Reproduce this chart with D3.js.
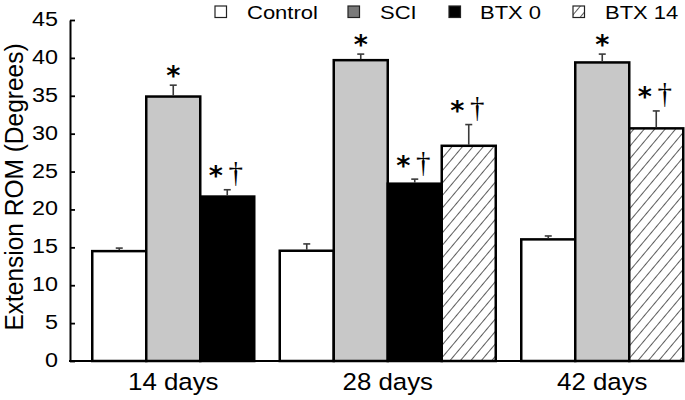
<!DOCTYPE html>
<html>
<head>
<meta charset="utf-8">
<script src="https://cdn.jsdelivr.net/npm/d3@7"></script>
<style>
  html, body { margin: 0; padding: 0; background: #fff; }
  svg { display: block; font-family: "Liberation Sans", Arial, sans-serif; }
</style>
</head>
<body>
<svg id="chart" width="685" height="400"></svg>
<script>
// ---- data ----
const categories = ["14 days", "28 days", "42 days"];
const seriesNames = ["Control", "SCI", "BTX 0", "BTX 14"];
const controlValues = [14.5, 14.55, 16.05];
const controlErrors = [0.4, 0.9, 0.45];
const sciValues = [34.9, 39.7, 39.4];
const sciErrors = [1.5, 0.8, 1.1];
const btx0Values = [21.7, 23.4, null];
const btx0Errors = [0.9, 0.6, null];
const btx14Values = [null, 28.4, 30.7];
const btx14Errors = [null, 2.8, 2.3];
const sciMarks = ["*", "*", "*"];
const btx0Marks = ["*\u2020", "*\u2020", null];
const btx14Marks = [null, "*\u2020", "*\u2020"];
const yTicks = [0, 5, 10, 15, 20, 25, 30, 35, 40, 45];
const yTitle = "Extension ROM (Degrees)";

// ---- layout / style ----
const svg = d3.select("#chart");
const axisX = 70, y0 = 361, yTop = 20;
const barW = 54;
const stretch = 1.14;
const fills = { "Control": "#ffffff", "SCI": "#c8c8c8", "BTX 0": "#000000", "BTX 14": "url(#hatch)" };
const legendFills = { "Control": "#ffffff", "SCI": "#7a7a7a", "BTX 0": "#000000", "BTX 14": "url(#hatchLegend)" };

const defs = svg.append("defs");
function hatch(id, size) {
  const p = defs.append("pattern").attr("id", id).attr("patternUnits", "userSpaceOnUse")
    .attr("width", size).attr("height", size).attr("patternTransform", "rotate(40)");
  p.append("rect").attr("width", size).attr("height", size).attr("fill", "#fff");
  p.append("line").attr("x1", 0).attr("y1", 0).attr("x2", 0).attr("y2", size)
    .attr("stroke", "#333").attr("stroke-width", 1.6);
}
hatch("hatch", 8);
hatch("hatchLegend", 7);

const y = d3.scaleLinear().domain([0, 45]).range([y0, yTop]);
const x = d3.scaleBand().domain(categories).range([66, 709.5]).padding(0);

const seriesData = [
  { name: "Control", values: controlValues, errors: controlErrors, marks: [null, null, null] },
  { name: "SCI", values: sciValues, errors: sciErrors, marks: sciMarks },
  { name: "BTX 0", values: btx0Values, errors: btx0Errors, marks: btx0Marks },
  { name: "BTX 14", values: btx14Values, errors: btx14Errors, marks: btx14Marks }
];

const bars = [];
categories.forEach((c, i) => {
  const present = seriesData.filter(s => s.values[i] != null);
  const center = x(c) + x.bandwidth() / 2;
  const inner = d3.scaleBand().domain(present.map(s => s.name))
    .range([center - present.length * barW / 2, center + present.length * barW / 2]);
  present.forEach(s => {
    bars.push({ cat: c, name: s.name, value: s.values[i], err: s.errors[i], mark: s.marks[i],
      x0: inner(s.name), w: inner.bandwidth() });
  });
});
const lastRight = d3.max(bars, d => d.x0 + d.w);

// bars
svg.append("g").selectAll("rect").data(bars).join("rect")
  .attr("x", d => d.x0).attr("y", d => y(d.value))
  .attr("width", d => d.w).attr("height", d => y(0) - y(d.value))
  .attr("fill", d => fills[d.name]).attr("stroke", "#000").attr("stroke-width", 2.5);

// error bars
const eg = svg.append("g").attr("stroke", "#3a3a3a").attr("stroke-width", 1.6);
bars.forEach(d => {
  const cx = d.x0 + d.w / 2;
  eg.append("line").attr("x1", cx).attr("x2", cx).attr("y1", y(d.value) - 1).attr("y2", y(d.value + d.err));
  eg.append("line").attr("x1", cx - 3.5).attr("x2", cx + 3.5).attr("y1", y(d.value + d.err)).attr("y2", y(d.value + d.err));
});

// significance marks
const mg = svg.append("g").attr("fill", "#000");
bars.filter(d => d.mark).forEach(d => {
  const cx = d.x0 + d.w / 2;
  const top = y(d.value + d.err);
  const hasDagger = d.mark.includes("\u2020");
  const starCenterY = top - (hasDagger ? 19.5 : 15.5);
  mg.append("text").attr("x", cx + (hasDagger ? -11.5 : 0)).attr("y", starCenterY + 15)
    .attr("text-anchor", "middle").attr("font-family", "'DejaVu Sans', sans-serif")
    .attr("font-weight", "bold").attr("font-size", 27).text("*");
  if (hasDagger) {
    mg.append("text").attr("x", cx + 8.5).attr("y", top - 7.5)
      .attr("text-anchor", "middle").attr("font-family", "'Liberation Serif', serif")
      .attr("font-size", 29).text("\u2020");
  }
});

// y axis
const yAxis = svg.append("g").attr("transform", `translate(${axisX},0)`)
  .call(d3.axisLeft(y).tickValues(yTicks).tickSizeInner(-5).tickSizeOuter(0).tickPadding(0));
yAxis.select(".domain").attr("stroke", "#000").attr("stroke-width", 2);
yAxis.selectAll(".tick line").attr("stroke", "#000").attr("stroke-width", 1.8);
yAxis.selectAll(".tick text")
  .attr("x", null).attr("dy", null).attr("y", null)
  .attr("transform", `translate(-12,5.5) scale(${stretch},1)`)
  .attr("font-size", 20.5).attr("fill", "#000")
  .attr("font-family", "'Liberation Sans', Arial, sans-serif");

// x axis
const xAxis = svg.append("g").attr("transform", `translate(0,${y0})`)
  .call(d3.axisBottom(x).tickSize(0).tickPadding(0));
xAxis.select(".domain").remove();
xAxis.selectAll(".tick text")
  .attr("y", null).attr("dy", null)
  .attr("transform", `translate(0,29) scale(1.1,1)`)
  .attr("font-size", 23.5).attr("fill", "#000")
  .attr("font-family", "'Liberation Sans', Arial, sans-serif");
svg.append("line").attr("x1", axisX - 1).attr("x2", lastRight).attr("y1", y0).attr("y2", y0)
  .attr("stroke", "#000").attr("stroke-width", 2);

// y title
svg.append("text").attr("transform", `translate(22.5,187) scale(1.08,1) rotate(-90)`)
  .attr("text-anchor", "middle").attr("font-size", 24.5).attr("fill", "#000").text(yTitle);

// legend
const legendX = [215, 348, 449, 573];
const legendTextX = [247, 380, 480, 605];
const legend = svg.append("g");
seriesNames.forEach((n, i) => {
  legend.append("rect").attr("x", legendX[i]).attr("y", 6).attr("width", 11.5).attr("height", 11.5)
    .attr("fill", legendFills[n]).attr("stroke", "#222").attr("stroke-width", 1.2);
  legend.append("text").attr("transform", `translate(${legendTextX[i]},18.5) scale(1.17,1)`)
    .attr("font-size", 18.8).attr("fill", "#000").text(n);
});
</script>
</body>
</html>
